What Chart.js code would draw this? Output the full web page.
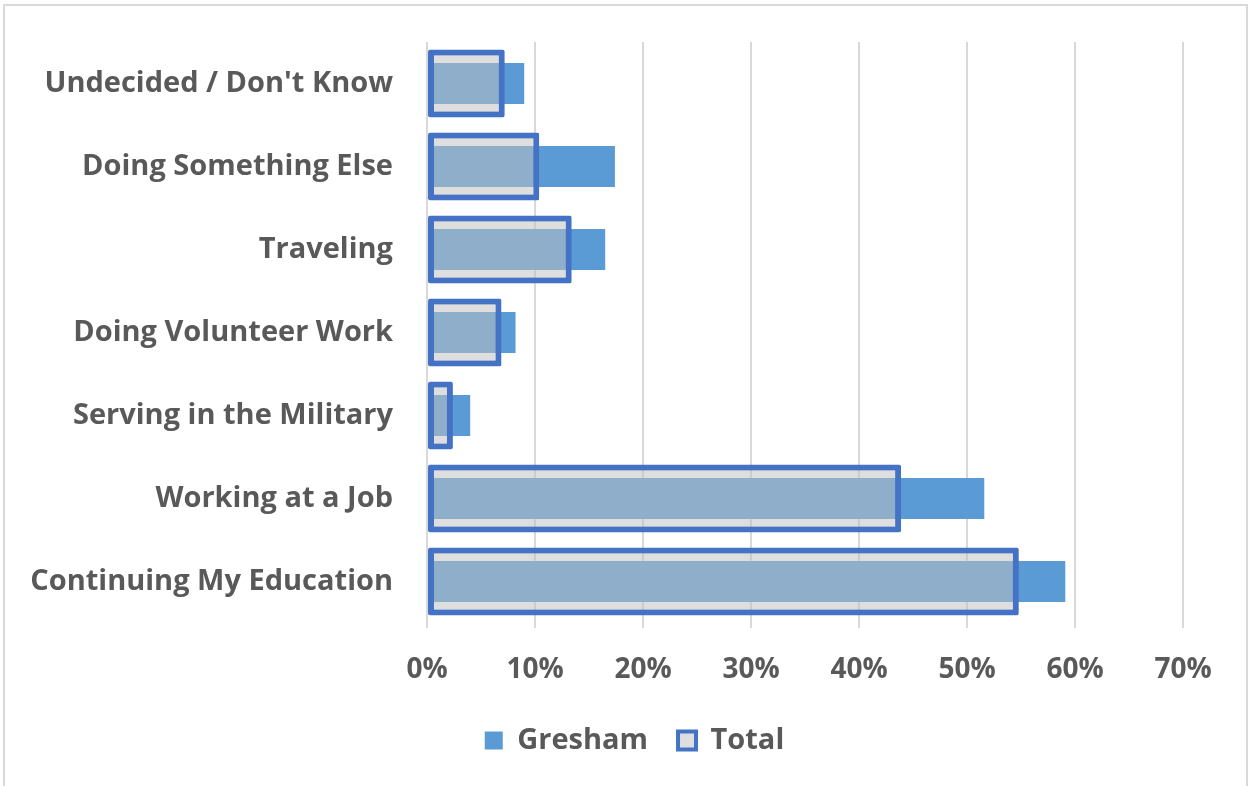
<!DOCTYPE html>
<html>
<head>
<meta charset="utf-8">
<script src="https://cdn.jsdelivr.net/npm/chart.js@4/dist/chart.umd.min.js"></script>
<style>
  html, body { margin: 0; padding: 0; background: #ffffff; }
  canvas { display: block; }
</style>
</head>
<body>
<canvas id="chart" width="1249" height="786"></canvas>
<script>
// Plans after high school, share of respondents (%)
const categories = [
  "Undecided / Don't Know",
  "Doing Something Else",
  "Traveling",
  "Doing Volunteer Work",
  "Serving in the Military",
  "Working at a Job",
  "Continuing My Education"
];
const greshamValues = [9.0, 17.4, 16.5, 8.2, 4.0, 51.6, 59.1];
const totalValues   = [7.2, 10.4, 13.4, 6.9, 2.4, 43.9, 54.8];
const tickLabels = ["0%", "10%", "20%", "30%", "40%", "50%", "60%", "70%"];

const TEXT = '#595959';
const FONT = '"Open Sans"';

// light grey frame around the whole chart
const framePlugin = {
  id: 'frame',
  beforeDraw(chart) {
    const ctx = chart.ctx;
    ctx.save();
    ctx.fillStyle = '#ffffff';
    ctx.fillRect(0, 0, chart.width, chart.height);
    ctx.strokeStyle = '#d9d9d9';
    ctx.lineWidth = 2;
    ctx.strokeRect(4, 5, 1243, 1000);
    ctx.restore();
  }
};

// centre the legend under the whole frame rather than the padded layout box
const legendCentre = {
  id: 'legendCentre',
  afterLayout(chart) {
    const lg = chart.legend;
    if (lg) {
      const shift = chart.width / 2 + 10 - (lg.left + lg.right) / 2;
      lg.left += shift;
      lg.right += shift;
    }
  }
};

new Chart(document.getElementById('chart'), {
  type: 'bar',
  data: {
    labels: categories,
    datasets: [
      {
        label: 'Gresham',
        data: greshamValues,
        backgroundColor: '#5b9bd5',
        borderWidth: 0,
        grouped: false,
        categoryPercentage: 1,
        barPercentage: 0.494,
        order: 2
      },
      {
        label: 'Total',
        data: totalValues,
        backgroundColor: 'rgba(191,191,191,0.52)',
        borderColor: '#4472c4',
        borderWidth: 6,
        borderSkipped: false,
        borderRadius: 2,
        grouped: false,
        categoryPercentage: 1,
        barPercentage: 0.82,
        order: 1
      }
    ]
  },
  options: {
    indexAxis: 'y',
    responsive: false,
    animation: false,
    layout: { padding: { top: 42, right: 66, bottom: 21, left: 0 } },
    scales: {
      x: {
        min: 0,
        max: 70,
        grid: {
          color: '#d9d9d9',
          lineWidth: 2,
          drawTicks: true,
          tickLength: 5,
          tickColor: '#d9d9d9'
        },
        border: { display: false },
        ticks: {
          stepSize: 10,
          padding: 25,
          color: TEXT,
          font: { family: FONT, size: 28, weight: 'bold' },
          callback: (v, i) => tickLabels[i]
        },
        afterFit(scale) { scale.height = 73; }
      },
      y: {
        grid: { display: false, drawTicks: false },
        border: { display: false },
        ticks: {
          padding: 34,
          color: TEXT,
          font: { family: FONT, size: 29, weight: 'bold' }
        },
        afterFit(scale) {
          scale.width = 427;
          // the label gap should not push the plot area down
          scale.paddingTop = 0;
          scale.paddingBottom = 0;
        }
      }
    },
    plugins: {
      legend: {
        position: 'bottom',
        labels: {
          color: TEXT,
          font: { family: FONT, size: 29, weight: 'bold' },
          boxWidth: 18,
          boxHeight: 18,
          padding: 30,
          sort: (a, b) => a.datasetIndex - b.datasetIndex,
          generateLabels(chart) {
            const items = Chart.defaults.plugins.legend.labels.generateLabels(chart);
            items.forEach(it => {
              if (it.text === 'Total') {
                it.lineWidth = 4;
                it.fillStyle = '#dedede';
              }
            });
            return items;
          }
        }
      },
      tooltip: { enabled: false }
    }
  },
  plugins: [framePlugin, legendCentre]
});
</script>
</body>
</html>
